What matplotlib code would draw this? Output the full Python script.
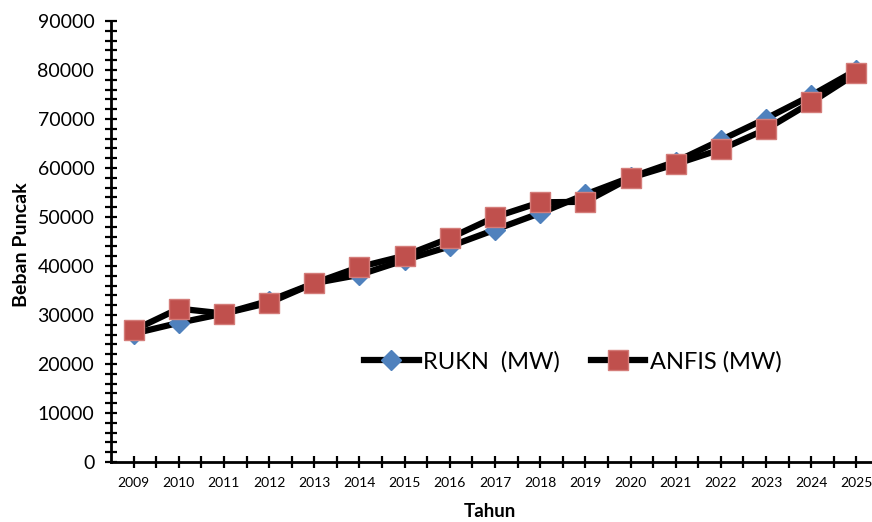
import numpy as np
import matplotlib.pyplot as plt
from matplotlib.ticker import MultipleLocator

# Data
years = ['2009', '2010', '2011', '2012', '2013', '2014', '2015', '2016', '2017',
         '2018', '2019', '2020', '2021', '2022', '2023', '2024', '2025']
rukn = [26200, 28400, 30300, 32900, 36500, 38200, 41200, 44000, 47400,
        50800, 54600, 58100, 61300, 65700, 70100, 74800, 80000]
anfis = [26900, 31300, 30300, 32500, 36500, 39800, 42100, 45700, 50000,
         53000, 53100, 58000, 60800, 63800, 67900, 73400, 79300]

plt.rcParams['font.family'] = ['Lato', 'DejaVu Sans']

fig = plt.figure(figsize=(8.72, 5.22), dpi=100)
ax = fig.add_axes([111 / 872, 60 / 522, 768 / 872, 441 / 522])

x = np.arange(len(years))
ax.plot(x, rukn, color='black', lw=4.5, marker='D', ms=10,
        mfc='#4F81BD', mec='#4F81BD', label='RUKN  (MW)', zorder=3)
ax.plot(x, anfis, color='black', lw=4.5, marker='s', ms=14,
        mfc='#C0504D', mec='#D47C79', mew=1, label='ANFIS (MW)', zorder=4)

ax.set_xlim(-0.5, len(years) - 0.5)
ax.set_ylim(0, 90000)

for side in ['top', 'right']:
    ax.spines[side].set_visible(False)
for side in ['left', 'bottom']:
    ax.spines[side].set_linewidth(2)

ax.set_xticks(x)
ax.set_xticklabels(years)
ax.set_xticks(x[:-1] + 0.5, minor=True)
ax.yaxis.set_major_locator(MultipleLocator(10000))
ax.yaxis.set_minor_locator(MultipleLocator(2000))
ax.tick_params(axis='both', which='both', direction='inout', length=8, width=1.6)
ax.tick_params(axis='y', which='major', labelsize=14, pad=8)
ax.tick_params(axis='x', which='major', labelsize=10, pad=7)

ax.set_xlabel('Tahun', fontsize=13.5, fontweight='bold')
ax.xaxis.set_label_coords(0.493, -0.092)
ax.set_ylabel('Beban Puncak', fontsize=14, fontweight='bold')
ax.yaxis.set_label_coords(-0.106, 0.492)

ax.legend(loc='center', bbox_to_anchor=((573 - 111) / 768, (462 - 362) / 441),
          ncol=2, frameon=False, fontsize=17, handlelength=2.3,
          columnspacing=1.3, handletextpad=0.2)

fig.savefig('out.png', dpi=100)
